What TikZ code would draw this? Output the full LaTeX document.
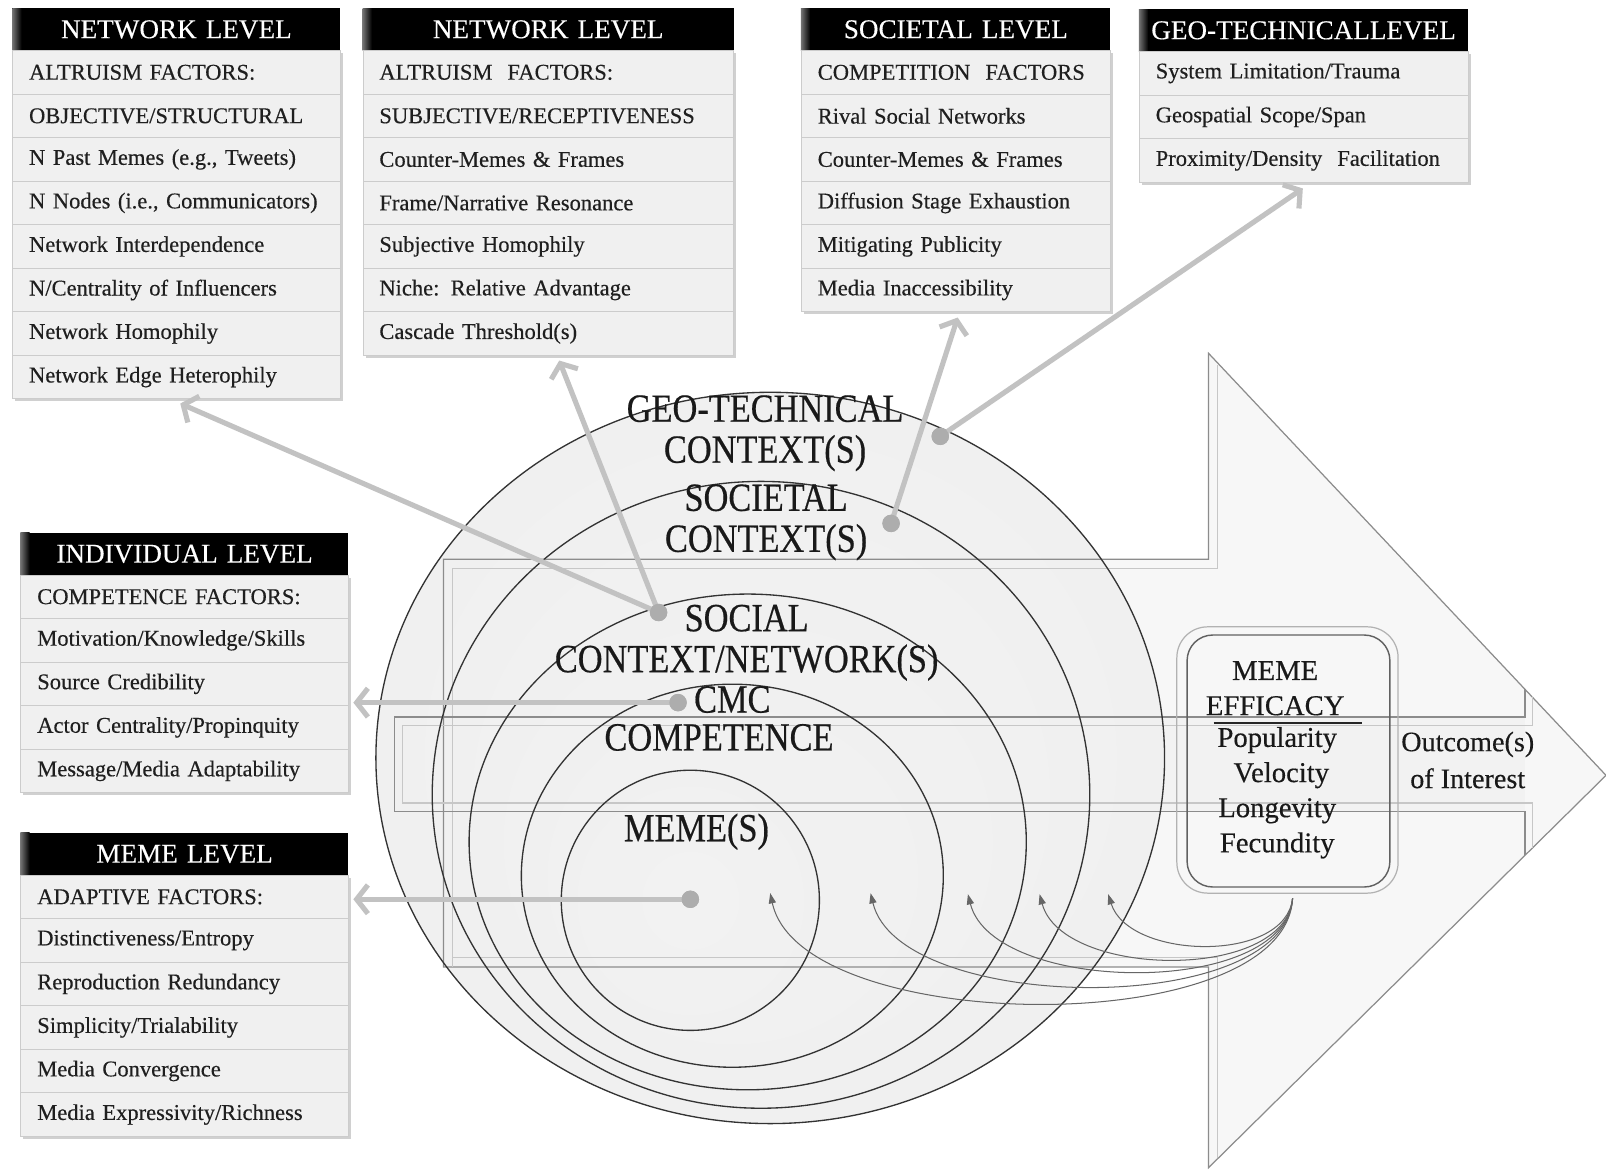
\documentclass[tikz,border=0pt]{standalone}
\usepackage{fontspec}
\setmainfont{Liberation Serif}[FakeBold=0.35]
\newfontfamily\condfont{Liberation Serif}[FakeStretch=0.86,FakeBold=0.45]
\usetikzlibrary{arrows.meta,calc,shadows}

\pgfdeclareradialshading{glassy}{\pgfpoint{0bp}{0bp}}{color(0bp)=(black!5); color(32bp)=(black!6); color(42bp)=(black!4); color(46bp)=(white); color(48.5bp)=(white); color(50bp)=(black!14)}

\tikzset{
  hdr/.style={fill=black, text=white, font=\fontsize{26.5}{28}\selectfont,
    minimum height=41pt, inner sep=0pt, anchor=north west, align=center},
  rowbox/.style={fill=black!6, draw=black!20, line width=0.8pt, minimum height=42.5pt,
    inner xsep=16pt, inner ysep=0pt, anchor=north west, align=left,
    font=\fontsize{22}{24}\selectfont, text=black!88,
    drop shadow={shadow xshift=2.5pt, shadow yshift=-2.5pt, opacity=.3, fill=black!60}},
  ctxt/.style={font=\condfont\fontsize{39}{40}\selectfont, align=center, inner sep=0pt, text=black!90},
  efftxt/.style={font=\fontsize{28}{34.3}\selectfont, align=center, inner sep=0pt, text=black!90},
  gdot/.style={circle, fill=black!32, minimum size=17pt, inner sep=0pt},
  gconn/.style={draw=black!24, line width=5pt,
    -{Straight Barb[length=11pt, width=28pt, line width=5pt]}},
  curv/.style={draw=black!60, line width=1pt, -{Triangle[length=10pt, width=7pt]}},
  arrline/.style={draw=black!45, line width=1.2pt},
  arrinner/.style={draw=black!22, line width=1pt},
  ellline/.style={draw=black!80, line width=1.3pt},
}

\newcommand{\levelbox}[6]{%
  \pgfmathsetmacro{\lbw}{#4}%
  \pgfmathsetmacro{\lbtw}{#4-32}%
  \node[hdr, text width=\lbw pt] (#1-h) at (#2,#3) {#5};
  \shade[left color=black!55, right color=black] (#1-h.north west) rectangle ($(#1-h.south west)+(9,0)$);
  \foreach \t [count=\k] in {#6} {%
    \pgfmathsetmacro{\lby}{#3+41+(\k-1)*42.5}%
    \node[rowbox, text width=\lbtw pt] (#1-\k) at (#2,\lby) {\t};
  }%
}

\begin{document}
\begin{tikzpicture}[x=1pt,y=-1pt]
\useasboundingbox (0,0) rectangle (1568,1145);
\fill[white] (0,0) rectangle (1568,1145);

% big arrow fill
\fill[black!3] (433,546) -- (1180,546) -- (1180,345) -- (1568,757) -- (1180,1140)
  -- (1180,944) -- (433,944) -- cycle;
\fill[black!5] (385,700) rectangle (1489,792);

% ellipses fill
\foreach \cx/\cy/\rx/\ry in {752/740/385/357, 743/776/321/306, 730/822/272/242, 715/855/206/187, 674/879/126/127}
  \shade[shading=glassy] (\cx,\cy) ellipse [x radius=\rx, y radius=\ry];

% big arrow outline
\draw[arrline] (433,546) -- (1180,546) -- (1180,345) -- (1568,757) -- (1180,1140)
  -- (1180,944) -- (433,944) -- cycle;
\draw[arrinner] (442,944) -- (442,555) -- (1189,555) -- (1189,356);
\draw[arrinner] (442,935) -- (1189,935) -- (1189,1131);
% inner arrow
\draw[arrline] (1489,673) -- (1489,700) -- (385,700) -- (385,792) -- (1489,792) -- (1489,835);
\draw[arrinner] (1496,680) -- (1496,708) -- (393,708) -- (393,784) -- (1496,784) -- (1496,828);

% ellipse outlines
\foreach \cx/\cy/\rx/\ry in {752/740/385/357, 743/776/321/306, 730/822/272/242, 715/855/206/187, 674/879/126/127}
  \draw[ellline] (\cx,\cy) ellipse [x radius=\rx, y radius=\ry];

% central labels
\node[ctxt] (lab-geo) at (747,423) {GEO-TECHNICAL\\CONTEXT(S)};
\node[ctxt] (lab-soc) at (748,510) {SOCIETAL\\CONTEXT(S)};
\node[ctxt] (lab-social) at (729,627.5) {SOCIAL\\CONTEXT/NETWORK(S)};
\node[ctxt] (lab-cmc1) at (715,683) {CMC};
\node[ctxt] (lab-cmc2) at (702,720) {COMPETENCE};
\node[ctxt] (lab-meme) at (680,812) {MEME(S)};

% meme efficacy box
\node[draw=black!30, line width=1.2pt, rounded corners=30pt, minimum width=216pt,
  minimum height=260pt, inner sep=0pt] (effbox) at (1257,742) {};
\draw[black!62, line width=1.4pt, rounded corners=25pt] (1159,620) rectangle (1357,866);
\node[efftxt] (eff-title) at (1245,672) {MEME\\EFFICACY};
\draw[black!85, line width=1.6pt] (1185,706) -- (1330,706);
\node[efftxt] (eff-items) at (1247,774) {Popularity\\\hspace*{8pt}Velocity\\Longevity\\Fecundity};
\node[font=\fontsize{27.5}{36}\selectfont, align=center, inner sep=0pt, text=black!90] (outcome) at (1433,742) {Outcome(s)\\of Interest};

% level boxes
\levelbox{b1}{12}{8}{320}{NETWORK LEVEL}{ALTRUISM FACTORS:, OBJECTIVE/STRUCTURAL, {N Past Memes (e.g., Tweets)}, {N Nodes (i.e., Communicators)}, Network Interdependence, N/Centrality of Influencers, Network Homophily, Network Edge Heterophily}
\levelbox{b2}{354}{8}{362}{NETWORK LEVEL}{ALTRUISM\ \ FACTORS:, SUBJECTIVE/RECEPTIVENESS, Counter-Memes \& Frames, Frame/Narrative Resonance, Subjective Homophily, Niche: Relative Advantage, Cascade Threshold(s)}
\levelbox{b3}{782}{8}{302}{SOCIETAL LEVEL}{COMPETITION\ \ FACTORS, Rival Social Networks, Counter-Memes \& Frames, Diffusion Stage Exhaustion, Mitigating Publicity, Media Inaccessibility}
\levelbox{b4}{1112}{9}{321}{GEO-TECHNICALLEVEL}{System Limitation/Trauma, Geospatial Scope/Span, Proximity/Density\ \ Facilitation}
\levelbox{b5}{20}{520}{320}{INDIVIDUAL LEVEL}{COMPETENCE FACTORS:, Motivation/Knowledge/Skills, Source Credibility, Actor Centrality/Propinquity, Message/Media Adaptability}
\levelbox{b6}{20}{813}{320}{MEME LEVEL}{ADAPTIVE FACTORS:, Distinctiveness/Entropy, Reproduction Redundancy, Simplicity/Trialability, Media Convergence, Media Expressivity/Richness}

% dots and targets
\node[gdot] (d-social) at (643,598) {};
\node[gdot] (d-soc) at (870,511) {};
\node[gdot] (d-geo) at (918,426) {};
\node[gdot] (d-cmc) at (662,686) {};
\node[gdot] (d-meme) at (674,878) {};
\coordinate (b1-in) at (176,394);
\coordinate (b2-in) at (546,352);
\coordinate (b3-in) at (935,310);
\coordinate (b4-in) at (1272,184);
\coordinate (b5-in) at (345,686);
\coordinate (b6-in) at (345,878);

\draw[gconn] (d-social.center) -- (b1-in);
\draw[gconn] (d-social.center) -- (b2-in);
\draw[gconn] (d-soc.center) -- (b3-in);
\draw[gconn] (d-geo.center) -- (b4-in);
\draw[gconn] (d-cmc.center) -- (b5-in);
\draw[gconn] (d-meme.center) -- (b6-in);
\node[gdot] at (d-social) {};
\node[gdot] at (d-soc) {};
\node[gdot] at (d-geo) {};
\node[gdot] at (d-cmc) {};
\node[gdot] at (d-meme) {};

% feedback curves
\coordinate (effsrc) at (1262,877);
\coordinate (t1) at (752,872);
\coordinate (t2) at (850,872);
\coordinate (t3) at (945,873);
\coordinate (t4) at (1015,873);
\coordinate (t5) at (1082,873);
\draw[curv] (effsrc) .. controls (1255,1017) and (782,1012) .. (t1);
\draw[curv] (effsrc) .. controls (1255,995) and (878,990) .. (t2);
\draw[curv] (effsrc) .. controls (1255,975) and (970,971) .. (t3);
\draw[curv] (effsrc) .. controls (1255,959) and (1037,955) .. (t4);
\draw[curv] (effsrc) .. controls (1255,941) and (1102,937) .. (t5);
\end{tikzpicture}
\end{document}
